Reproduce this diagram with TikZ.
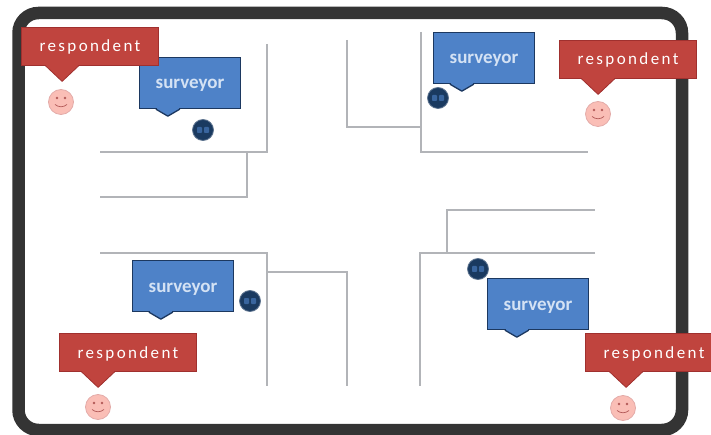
\documentclass[tikz,border=0pt]{standalone}
\usepackage{fontspec}
\setmainfont{Carlito}
\usepackage{xcolor}
\definecolor{frameblack}{RGB}{52,52,52}
\definecolor{wallgrey}{RGB}{178,180,184}
\definecolor{callred}{RGB}{192,68,62}
\definecolor{callreddark}{RGB}{160,48,46}
\definecolor{callblue}{RGB}{78,130,200}
\definecolor{callbluedark}{RGB}{28,56,96}
\definecolor{survtext}{RGB}{212,226,244}
\definecolor{facepink}{RGB}{250,190,182}
\definecolor{facenavy}{RGB}{26,58,96}

\begin{document}
\begin{tikzpicture}[x=1pt, y=-1pt,
  wall/.style={draw=wallgrey, line width=1.3pt, line join=miter},
  resp/.style={draw=callreddark, fill=callred, line width=0.8pt, text=white,
               minimum width=137pt, minimum height=38pt, inner sep=0pt, text height=12pt, text depth=0pt,
               font=\fontsize{17}{17}\selectfont\addfontfeatures{LetterSpace=14}},
  surv/.style={draw=callbluedark, fill=callblue, line width=1.3pt, text=survtext,
               minimum width=101pt, minimum height=51pt, inner sep=0pt, text height=12pt, text depth=0pt,
               font=\fontsize{19}{19}\selectfont\bfseries},
  resptail/.style={fill=callred, draw=callreddark, line width=0.8pt, line join=round},
  survtail/.style={fill=callblue, draw=callbluedark, line width=1.3pt, line join=round},
  happy/.style={circle, draw=callred!45, fill=facepink, line width=0.8pt, minimum size=25pt, inner sep=0pt},
  sad/.style={circle, draw=facenavy!70!white, fill=facenavy, line width=0.8pt, minimum size=21pt, inner sep=0pt}]
\useasboundingbox (0,0) rectangle (711,435);
% outer frame
\draw[draw=frameblack, line width=12.5pt, rounded corners=20pt] (18.5,13) rectangle (682,430);
% corridors
\draw[wall] (267,44)--(267,152)--(100,152);
\draw[wall] (247,152)--(247,197)--(100,197);
\draw[wall] (347,40)--(347,127)--(421,127);
\draw[wall] (421,32)--(421,152)--(588,152);
\draw[wall] (100,253)--(267,253)--(267,386);
\draw[wall] (267,272)--(347,272)--(347,386);
\draw[wall] (595,253)--(420,253)--(420,386);
\draw[wall] (447,253)--(447,210)--(595,210);
% faces
\node[happy] (resptl) at (61,102) {};
\node[happy] (resptr) at (598,114) {};
\node[happy] (respbl) at (98,407) {};
\node[happy] (respbr) at (623,408) {};
\node[sad] (survtl) at (203,130) {};
\node[sad] (survtr) at (438,98) {};
\node[sad] (survbl) at (250,301) {};
\node[sad] (survbr) at (478,269) {};
\foreach \f in {resptl,resptr,respbl,respbr}{
  \fill[callreddark!80] ([shift={(-4pt,4pt)}]\f.center) circle (1.3pt) ([shift={(4pt,4pt)}]\f.center) circle (1.3pt);
  \draw[callreddark!80, line width=0.7pt] ([shift={(-6pt,-2.5pt)}]\f.center) to[bend right=40] ([shift={(6pt,-2.5pt)}]\f.center);
}
\foreach \f in {survtl,survtr,survbl,survbr}{
  \fill[callblue!60!facenavy, rounded corners=0.8pt] ([shift={(-6pt,-3pt)}]\f.center) rectangle ([shift={(-1pt,3pt)}]\f.center)
    ([shift={(1pt,-3pt)}]\f.center) rectangle ([shift={(6pt,3pt)}]\f.center);
}
% surveyors
\node[surv] (labtl) at (190,83) {surveyor};
\node[surv] (labtr) at (484,58) {surveyor};
\node[surv] (labbl) at (183,286) {surveyor};
\node[surv] (labbr) at (538,304) {surveyor};
\foreach \n/\x in {labtl/29,labtr/29,labbl/29,labbr/30}{
  \fill[callblue] ([shift={(\x pt-11pt,1pt)}]\n.south west) rectangle ([shift={(\x pt+11pt,-1pt)}]\n.south west);
  \draw[survtail] ([xshift=\x pt-12pt]\n.south west)--([shift={(\x pt,-7pt)}]\n.south west)--([xshift=\x pt+12pt]\n.south west);
}
% respondents
\node[resp] (tagtl) at (90,46) {respondent};
\node[resp] (tagtr) at (628,59) {respondent};
\node[resp] (tagbl) at (128,352) {respondent};
\node[resp] (tagbr) at (654,352) {respondent};
\foreach \n/\x in {tagtl/41,tagtr/39,tagbl/39,tagbr/41}{
  \fill[callred] ([shift={(\x pt-16pt,1pt)}]\n.south west) rectangle ([shift={(\x pt+16pt,-1pt)}]\n.south west);
  \draw[resptail] ([xshift=\x pt-17pt]\n.south west)--([shift={(\x pt,-16pt)}]\n.south west)--([xshift=\x pt+17pt]\n.south west);
}
\end{tikzpicture}
\end{document}
